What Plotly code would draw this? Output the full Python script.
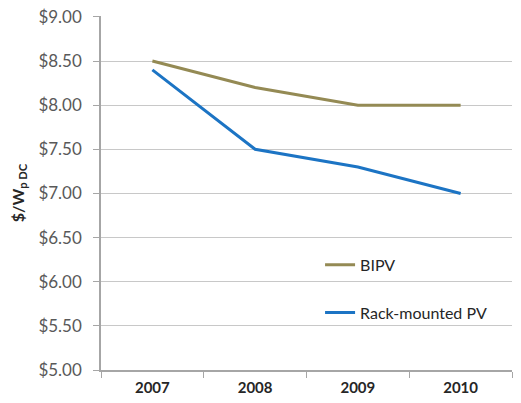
import plotly.graph_objects as go

years = ["2007", "2008", "2009", "2010"]
bipv = [8.50, 8.20, 8.00, 8.00]
rack = [8.40, 7.50, 7.30, 7.00]
y_ticks = [5.0, 5.5, 6.0, 6.5, 7.0, 7.5, 8.0, 8.5, 9.0]
y_tick_labels = ["$%.2f" % v for v in y_ticks]

fig = go.Figure()
fig.add_trace(go.Scatter(x=years, y=bipv, mode="lines", name="BIPV",
                         line=dict(color="#948A54", width=3), legendgroup="a"))
fig.add_trace(go.Scatter(x=years, y=rack, mode="lines", name="Rack-mounted PV",
                         line=dict(color="#1C74C4", width=3), legendgroup="b"))

fig.update_layout(
    width=521, height=403,
    margin=dict(l=101, r=9, t=16, b=33, autoexpand=False),
    paper_bgcolor="white", plot_bgcolor="white",
    font=dict(family="Lato, Open Sans, sans-serif", color="#262626"),
    showlegend=True,
    legend=dict(x=0.533, y=0.345, xanchor="left", yanchor="top",
                bgcolor="rgba(0,0,0,0)", font=dict(size=16, color="#262626"),
                tracegroupgap=24, traceorder="grouped"),
    xaxis=dict(type="category", tickson="boundaries", ticks="outside", ticklen=6,
               tickcolor="#A6A6A6", showline=True, linecolor="#A6A6A6", linewidth=1.5,
               showgrid=False, ticklabelstandoff=3, automargin=False,
               tickfont=dict(size=15, color="#262626", family="Lato, sans-serif", weight="bold"),
               range=[-0.5, 3.5]),
    yaxis=dict(range=[5, 9.01], tickvals=y_ticks, ticktext=y_tick_labels,
               showgrid=True, gridcolor="#C8C8C8", gridwidth=1,
               ticks="outside", ticklen=6, tickcolor="#A6A6A6",
               showline=True, linecolor="#A6A6A6", linewidth=1.5,
               ticklabelstandoff=8, zeroline=False, ticklabeloverflow="allow",
               automargin=False,
               tickfont=dict(size=17, color="#595959"),
               title=dict(text="$/W<sub>p DC</sub>", standoff=10,
                          font=dict(size=16, color="#262626", weight="bold"))),
)

fig.write_html("out.html", config={"displayModeBar": False},
               post_script="document.body.style.margin='0';")
